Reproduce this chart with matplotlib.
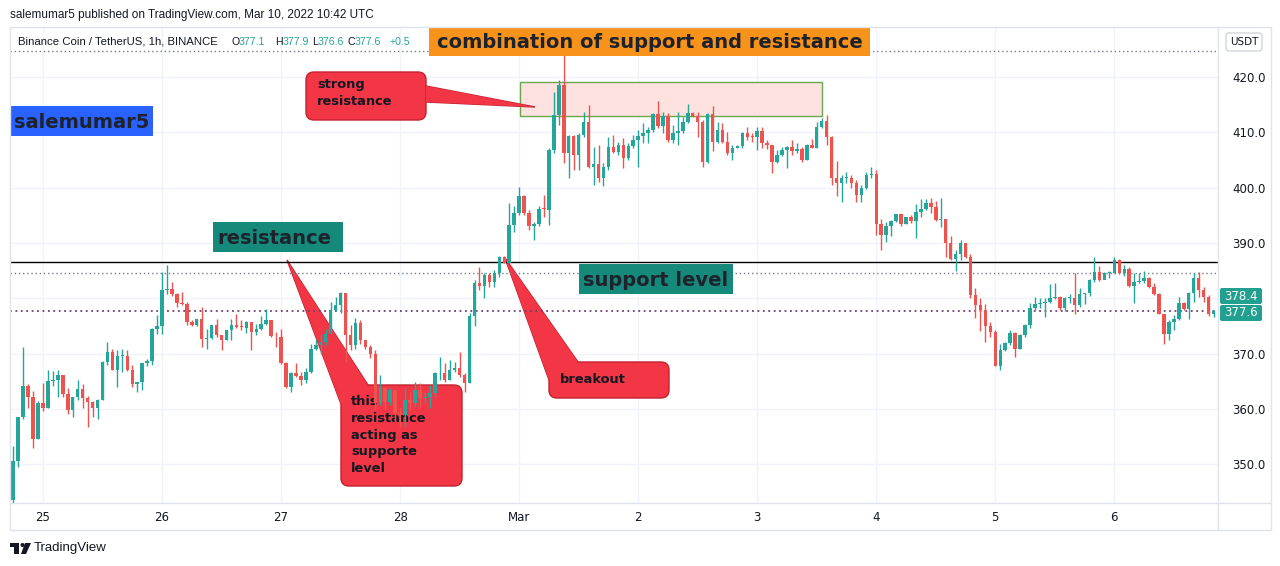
import matplotlib
matplotlib.use("Agg")
import matplotlib.pyplot as plt
from matplotlib.patches import Rectangle, FancyBboxPatch, Polygon, Circle
from matplotlib.transforms import Affine2D

W, H = 1280, 566

# BNB/USDT 1h candles, hour index 0 = Feb 25 00:00, first candle at -6
first_hour = -6
first_open = 343.5
closes = [
    350.6, 358.5, 364.1, 362.2, 354.5, 361.1,
    360.1, 365.0, 365.2, 366.1, 362.7, 359.8, 362.2, 363.5, 361.9, 361.3, 360.2, 361.6,
    368.5, 370.3, 367.1, 369.5, 369.5, 367.0, 364.5, 364.8, 368.2, 368.6, 374.5, 374.9,
    381.5, 381.6, 380.7, 379.2, 378.9, 375.7, 375.1, 376.2, 372.7, 372.8, 375.1, 373.3,
    372.5, 374.2, 375.1, 374.8, 374.7, 375.7, 373.9, 374.5, 375.3, 376.0, 373.1, 373.0,
    368.2, 363.9, 366.4, 365.9, 365.3, 366.7, 370.9, 371.5, 372.1, 373.6, 377.9, 378.8,
    380.9, 373.3, 371.5, 375.5, 372.4, 371.2, 370.0, 361.0, 363.7, 361.3, 363.4, 359.2,
    358.9, 361.6, 361.0, 363.4, 361.9, 362.2, 362.8, 366.4, 366.4, 365.2, 367.0, 367.3,
    366.1, 364.6, 376.7, 382.7, 382.2, 384.2, 383.0, 384.5, 387.5, 386.4, 393.2, 395.4,
    398.4, 395.4, 393.1, 393.4, 396.1, 396.0, 406.8, 413.1, 418.6, 406.2, 409.3, 405.9,
    409.5, 411.9, 403.8, 404.3, 401.7, 403.8, 407.4, 406.5, 407.7, 405.3, 407.5, 408.6,
    409.3, 409.8, 410.4, 413.3, 411.1, 412.9, 408.6, 409.9, 410.2, 411.9, 413.4, 412.9,
    411.9, 404.7, 413.3, 408.3, 410.4, 408.3, 406.3, 407.1, 407.5, 409.9, 409.2, 409.1,
    410.3, 408.1, 407.7, 404.7, 405.9, 406.8, 407.4, 406.7, 406.9, 405.0, 407.7, 407.2,
    410.9, 412.1, 409.1, 401.8, 400.9, 401.8, 401.8, 400.9, 398.7, 399.9, 402.3, 402.5,
    393.5, 391.4, 393.0, 394.0, 395.3, 393.5, 394.6, 394.0, 395.6, 396.2, 397.3, 396.5,
    394.1, 394.4, 390.0, 387.0, 388.0, 390.0, 387.4, 380.6, 378.8, 377.9, 375.0, 373.9,
    367.7, 370.7, 371.9, 373.7, 370.9, 373.3, 375.1, 378.2, 378.9, 379.2, 379.4, 380.1,
    380.3, 378.3, 380.0, 380.0, 378.7, 380.7, 380.9, 383.3, 384.8, 383.3, 384.5, 384.6,
    386.9, 384.6, 385.2, 382.2, 383.0, 383.1, 383.6, 382.1, 380.7, 377.2, 373.6, 375.7,
    376.3, 379.1, 378.1, 381.0, 383.6, 381.5, 380.3, 377.1, 377.6,
]
highs = [
    353.2, 358.6, 371.2, 364.5, 363.3, 361.4,
    364.6, 367.0, 366.9, 367.0, 366.1, 363.7, 362.2, 365.3, 364.5, 362.3, 361.5, 361.7,
    368.6, 372.0, 370.8, 370.6, 370.8, 370.7, 367.9, 364.9, 368.3, 369.0, 374.7, 376.9,
    384.8, 386.0, 382.9, 381.0, 381.2, 379.3, 376.0, 376.3, 378.4, 374.5, 375.2, 376.2,
    373.3, 374.3, 376.2, 377.1, 376.0, 375.9, 375.7, 375.4, 376.8, 378.1, 376.1, 373.9,
    374.5, 368.5, 366.7, 368.3, 366.7, 367.3, 371.8, 372.7, 373.6, 374.5, 379.4, 380.3,
    381.2, 381.0, 375.2, 376.4, 376.0, 372.5, 371.5, 370.6, 366.1, 363.9, 363.7, 363.4,
    360.4, 363.7, 363.1, 364.9, 364.6, 363.1, 364.3, 366.7, 369.4, 368.2, 368.8, 368.5,
    370.3, 366.4, 377.3, 383.3, 385.7, 384.5, 384.5, 385.1, 387.6, 387.6, 397.2, 396.6,
    400.1, 398.7, 396.0, 393.8, 396.6, 398.7, 407.1, 417.2, 419.5, 424.6, 409.5, 409.5,
    409.8, 413.7, 414.9, 407.4, 407.7, 404.4, 409.2, 409.5, 408.3, 408.9, 408.0, 409.5,
    410.4, 411.6, 411.0, 413.4, 415.7, 413.7, 413.4, 411.3, 413.7, 412.8, 415.1, 413.7,
    413.7, 412.2, 413.4, 414.8, 411.9, 411.6, 410.1, 407.7, 407.7, 410.1, 411.0, 409.8,
    411.0, 411.0, 408.6, 407.7, 406.8, 407.4, 407.5, 408.6, 408.0, 407.4, 407.9, 408.7,
    411.9, 412.5, 413.1, 409.3, 404.9, 402.3, 402.9, 402.3, 401.4, 400.5, 402.9, 403.8,
    403.2, 394.4, 393.8, 394.1, 395.3, 395.3, 394.7, 395.0, 397.1, 397.9, 397.9, 398.1,
    397.6, 398.1, 394.4, 391.2, 388.7, 390.5, 390.0, 388.0, 381.8, 380.1, 379.0, 375.7,
    374.2, 371.8, 372.1, 374.3, 373.9, 373.5, 375.3, 379.1, 380.3, 380.0, 380.0, 382.5,
    382.7, 380.4, 380.3, 380.8, 384.5, 381.9, 381.0, 383.4, 387.4, 385.8, 384.8, 385.0,
    387.4, 387.0, 386.0, 385.6, 384.5, 384.6, 385.0, 383.8, 382.7, 381.0, 377.2, 376.0,
    376.9, 380.3, 379.3, 381.2, 384.5, 384.8, 382.1, 380.6, 377.9,
]
lows = [
    342.0, 349.5, 358.2, 360.2, 352.9, 354.5,
    359.6, 360.1, 364.1, 362.2, 362.2, 359.0, 358.5, 361.6, 360.1, 356.7, 358.5, 358.2,
    361.6, 368.0, 367.1, 363.9, 366.7, 366.9, 364.0, 363.1, 363.4, 367.7, 367.9, 373.6,
    373.6, 380.8, 380.4, 378.4, 378.7, 375.1, 374.9, 375.0, 371.2, 370.9, 372.7, 372.9,
    370.6, 372.5, 372.5, 374.7, 374.2, 373.7, 370.6, 373.3, 374.2, 375.1, 372.9, 371.2,
    368.1, 363.7, 363.1, 365.8, 364.3, 364.6, 366.4, 370.6, 370.0, 371.5, 374.5, 377.6,
    377.3, 368.5, 370.6, 370.9, 371.8, 370.9, 369.1, 359.8, 360.7, 359.8, 360.7, 357.6,
    356.7, 356.7, 359.8, 360.4, 360.1, 361.0, 360.1, 362.2, 365.2, 364.9, 365.2, 366.7,
    365.8, 363.1, 364.6, 374.9, 381.5, 380.0, 382.1, 382.1, 383.9, 386.3, 386.3, 392.0,
    395.0, 395.0, 392.3, 390.5, 393.0, 394.7, 393.2, 406.2, 411.3, 404.4, 401.7, 403.2,
    403.2, 409.2, 403.5, 400.5, 401.1, 400.2, 403.2, 406.2, 405.9, 403.5, 405.0, 407.1,
    403.8, 408.0, 408.0, 410.1, 410.7, 409.8, 408.3, 408.0, 407.7, 409.8, 411.6, 412.8,
    409.2, 403.8, 404.4, 406.7, 408.0, 408.0, 405.9, 405.0, 407.1, 407.1, 408.6, 408.3,
    406.8, 407.1, 406.9, 402.7, 404.4, 405.7, 403.5, 405.9, 406.3, 404.7, 405.0, 407.2,
    407.2, 410.7, 407.7, 400.5, 398.4, 397.4, 400.8, 399.9, 397.4, 397.4, 399.7, 401.7,
    391.4, 388.7, 390.2, 391.2, 393.8, 393.0, 393.4, 393.6, 390.8, 394.6, 396.0, 395.4,
    394.0, 392.9, 387.4, 386.9, 385.0, 386.9, 387.2, 380.1, 376.5, 374.1, 372.0, 373.0,
    367.7, 367.0, 370.5, 371.5, 369.4, 370.9, 373.0, 374.6, 377.9, 378.2, 376.6, 379.2,
    379.8, 377.9, 377.7, 379.1, 377.2, 378.5, 378.9, 380.4, 383.0, 383.2, 383.4, 383.6,
    384.5, 384.4, 384.0, 382.1, 379.1, 382.8, 382.8, 381.8, 380.6, 377.1, 371.7, 372.5,
    374.3, 376.0, 377.8, 376.3, 379.3, 380.3, 379.4, 376.8, 376.6,
]

day_hours = [0, 24, 48, 72, 96, 120, 144, 168, 192, 216]
day_labels = ["25", "26", "27", "28", "Mar", "2", "3", "4", "5", "6"]
price_ticks = [350, 360, 370, 380, 390, 400, 410, 420]
price_labels = ["350.0", "360.0", "370.0", "", "390.0", "400.0", "410.0", "420.0"]

resistance_level = 386.6
grey_dotted_level = 384.5
top_dotted_level = 424.7
last_close = 377.6
zone_low, zone_high = 412.95, 419.1
zone_start, zone_end = 96.2, 157.1

UP, DOWN = "#26a69a", "#ef5350"
RED, RED_EDGE = "#f23645", "#c22230"
TEAL_LABEL = "#15897a"
TXT = "#131722"
LINE = "#e0e3eb"

fig = plt.figure(figsize=(W / 100, H / 100), dpi=100)
fig.patch.set_facecolor("white")
# pixel coords (origin top-left) for annotations / chrome
PX = Affine2D().scale(1 / W, -1 / H).translate(0, 1) + fig.transFigure

ax = fig.add_axes([10 / W, (H - 503) / H, (1218 - 10) / W, (503 - 27) / H])
ax.set_xlim(-6.65, 236.9)
ax.set_ylim(342.97, 429.04)
for s in ax.spines.values():
    s.set_visible(False)

# grid
ax.vlines(day_hours, 342.97, 429.04, color="#f0f3fa", lw=1, zorder=0)
ax.hlines(price_ticks, -6.65, 236.9, color="#f0f3fa", lw=1, zorder=0)

# candles
n = len(closes)
idx = list(range(first_hour, first_hour + n))
opens = [first_open] + closes[:-1]
colors = [UP if c >= o else DOWN for o, c in zip(opens, closes)]
body = [(c - o) if abs(c - o) > 0.15 else 0.15 for o, c in zip(opens, closes)]
ax.vlines(idx, lows, highs, colors=colors, lw=1, zorder=3)
ax.bar(idx, body, bottom=opens, width=0.7, color=colors, lw=0, zorder=4)

# horizontal levels
ax.axhline(resistance_level, color="#000000", lw=1, zorder=2)
ax.axhline(grey_dotted_level, color="#787b86", lw=1, ls=(0, (1, 2)), zorder=2)
ax.axhline(top_dotted_level, color="#787b86", lw=1, ls=(0, (1, 2)), zorder=2)
ax.axhline(last_close, color="#6e3f6e", lw=1.3, ls=(0, (1, 2)), zorder=2)

# resistance zone rectangle
ax.add_patch(Rectangle((zone_start, zone_low), zone_end - zone_start, zone_high - zone_low,
                       fc="#fde2df", ec="#6aa84f", lw=1, zorder=1))


def callout(box, base, tip, text, tx, ty):
    x0, y0, x1, y1 = box
    ax.add_patch(Polygon([base[0], tip, base[1]], closed=True, transform=PX,
                         fc=RED, ec=RED_EDGE, lw=1, zorder=1.2))
    ax.add_patch(FancyBboxPatch((x0, y0), x1 - x0, y1 - y0,
                                boxstyle="round,pad=0,rounding_size=8", transform=PX,
                                fc=RED, ec=RED_EDGE, lw=1, zorder=1.3))
    ax.add_patch(Polygon([base[0], tip, base[1]], closed=True, transform=PX,
                         fc=RED, ec="none", zorder=1.4))
    ax.text(tx, ty, text, transform=PX, ha="left", va="top", fontsize=9.4,
            fontweight="bold", color=TXT, linespacing=1.38, zorder=1.5)


callout((306, 72, 426, 120), [(426, 86), (426, 102)], (535, 107),
        "strong\nresistance", 317, 78)
callout((549, 362, 669, 398), [(549, 380), (578, 362)], (505, 258),
        "breakout", 560, 373)
callout((341, 385, 462, 486), [(341, 404), (368, 385)], (287, 260),
        "this\nresistance\nacting as\nsupporte\nlevel", 351, 395)


def label(box, color, text, size=14, center=False):
    x0, y0, x1, y1 = box
    ax.add_patch(Rectangle((x0, y0), x1 - x0, y1 - y0, transform=PX, fc=color,
                           ec="none", zorder=5, clip_on=False))
    tx = (x0 + x1) / 2 if center else x0 + 4
    ax.text(tx, (y0 + y1) / 2 + 1, text, transform=PX, ha="center" if center else "left",
            va="center", fontsize=size, fontweight="bold", color="#1e222d", zorder=6,
            clip_on=False)


label((429, 27, 870, 56), "#f7931a", "combination of support and resistance", center=True)
label((10, 106, 153, 136), "#2962ff", "salemumar5")
label((213, 222, 343, 252), TEAL_LABEL, "resistance")
label((579, 264, 733, 294), TEAL_LABEL, "support level")

# axes ticks
ax.set_xticks(day_hours)
ax.set_xticklabels(day_labels)
ax.yaxis.tick_right()
ax.set_yticks(price_ticks)
ax.set_yticklabels(price_labels)
ax.tick_params(axis="both", length=0, labelsize=8.5, labelcolor=TXT)
ax.tick_params(axis="x", pad=6)
ax.tick_params(axis="y", pad=10)

# chart frame
fig.add_artist(Rectangle((10, 27), 1261, 503, transform=PX, fc="none", ec=LINE, lw=1))
fig.add_artist(plt.Line2D([1218, 1218], [27, 530], transform=PX, color=LINE, lw=1))
fig.add_artist(plt.Line2D([10, 1271], [503, 503], transform=PX, color=LINE, lw=1))

# price labels on the axis
for y0, txt in [(288, "378.4"), (305, "377.6")]:
    fig.add_artist(FancyBboxPatch((1220, y0), 42, 16, boxstyle="round,pad=0,rounding_size=2",
                                  transform=PX, fc="#22a08f", ec="none"))
    fig.text(1241, y0 + 8, txt, transform=PX, ha="center", va="center",
             fontsize=8.5, color="white")
fig.add_artist(FancyBboxPatch((1226, 33), 36, 18, boxstyle="round,pad=0,rounding_size=3",
                              transform=PX, fc="white", ec="#d1d4dc", lw=1))
fig.text(1244, 42, "USDT", transform=PX, ha="center", va="center", fontsize=7.5, color=TXT)

# header lines
fig.text(10, 15, "salemumar5 published on TradingView.com, Mar 10, 2022 10:42 UTC",
         transform=PX, ha="left", va="center", fontsize=8.5, color=TXT,
         family="Liberation Sans")
fig.text(18, 42, "Binance Coin / TetherUS, 1h, BINANCE", transform=PX, ha="left",
         va="center", fontsize=8.2, color=TXT, family="Liberation Sans")
for xl, letter, xv, val in [(231, "O", 239, "377.1"), (275, "H", 283, "377.9"),
                            (312, "L", 318, "376.6"), (348, "C", 355, "377.6")]:
    fig.text(xl, 42, letter, transform=PX, ha="left", va="center", fontsize=7.6,
             color=TXT, family="Liberation Sans")
    fig.text(xv, 42, val, transform=PX, ha="left", va="center", fontsize=7.6,
             color=UP, family="Liberation Sans")
fig.text(390, 42, "+0.5", transform=PX, ha="left", va="center", fontsize=7.6,
         color=UP, family="Liberation Sans")

# TradingView footer logo
fig.add_artist(Rectangle((10, 543), 9, 4, transform=PX, fc="#131722", ec="none"))
fig.add_artist(Rectangle((14, 543), 5, 11, transform=PX, fc="#131722", ec="none"))
fig.add_artist(Circle((22.5, 545), 2, transform=PX, fc="#131722", ec="none"))
fig.add_artist(Polygon([(25, 543), (31, 543), (26, 554), (21, 554)], closed=True,
                       transform=PX, fc="#131722", ec="none"))
fig.text(34, 548, "TradingView", transform=PX, ha="left", va="center", fontsize=9.5,
         color=TXT, family="Liberation Sans")

fig.savefig("out.png", dpi=100, facecolor="white")
